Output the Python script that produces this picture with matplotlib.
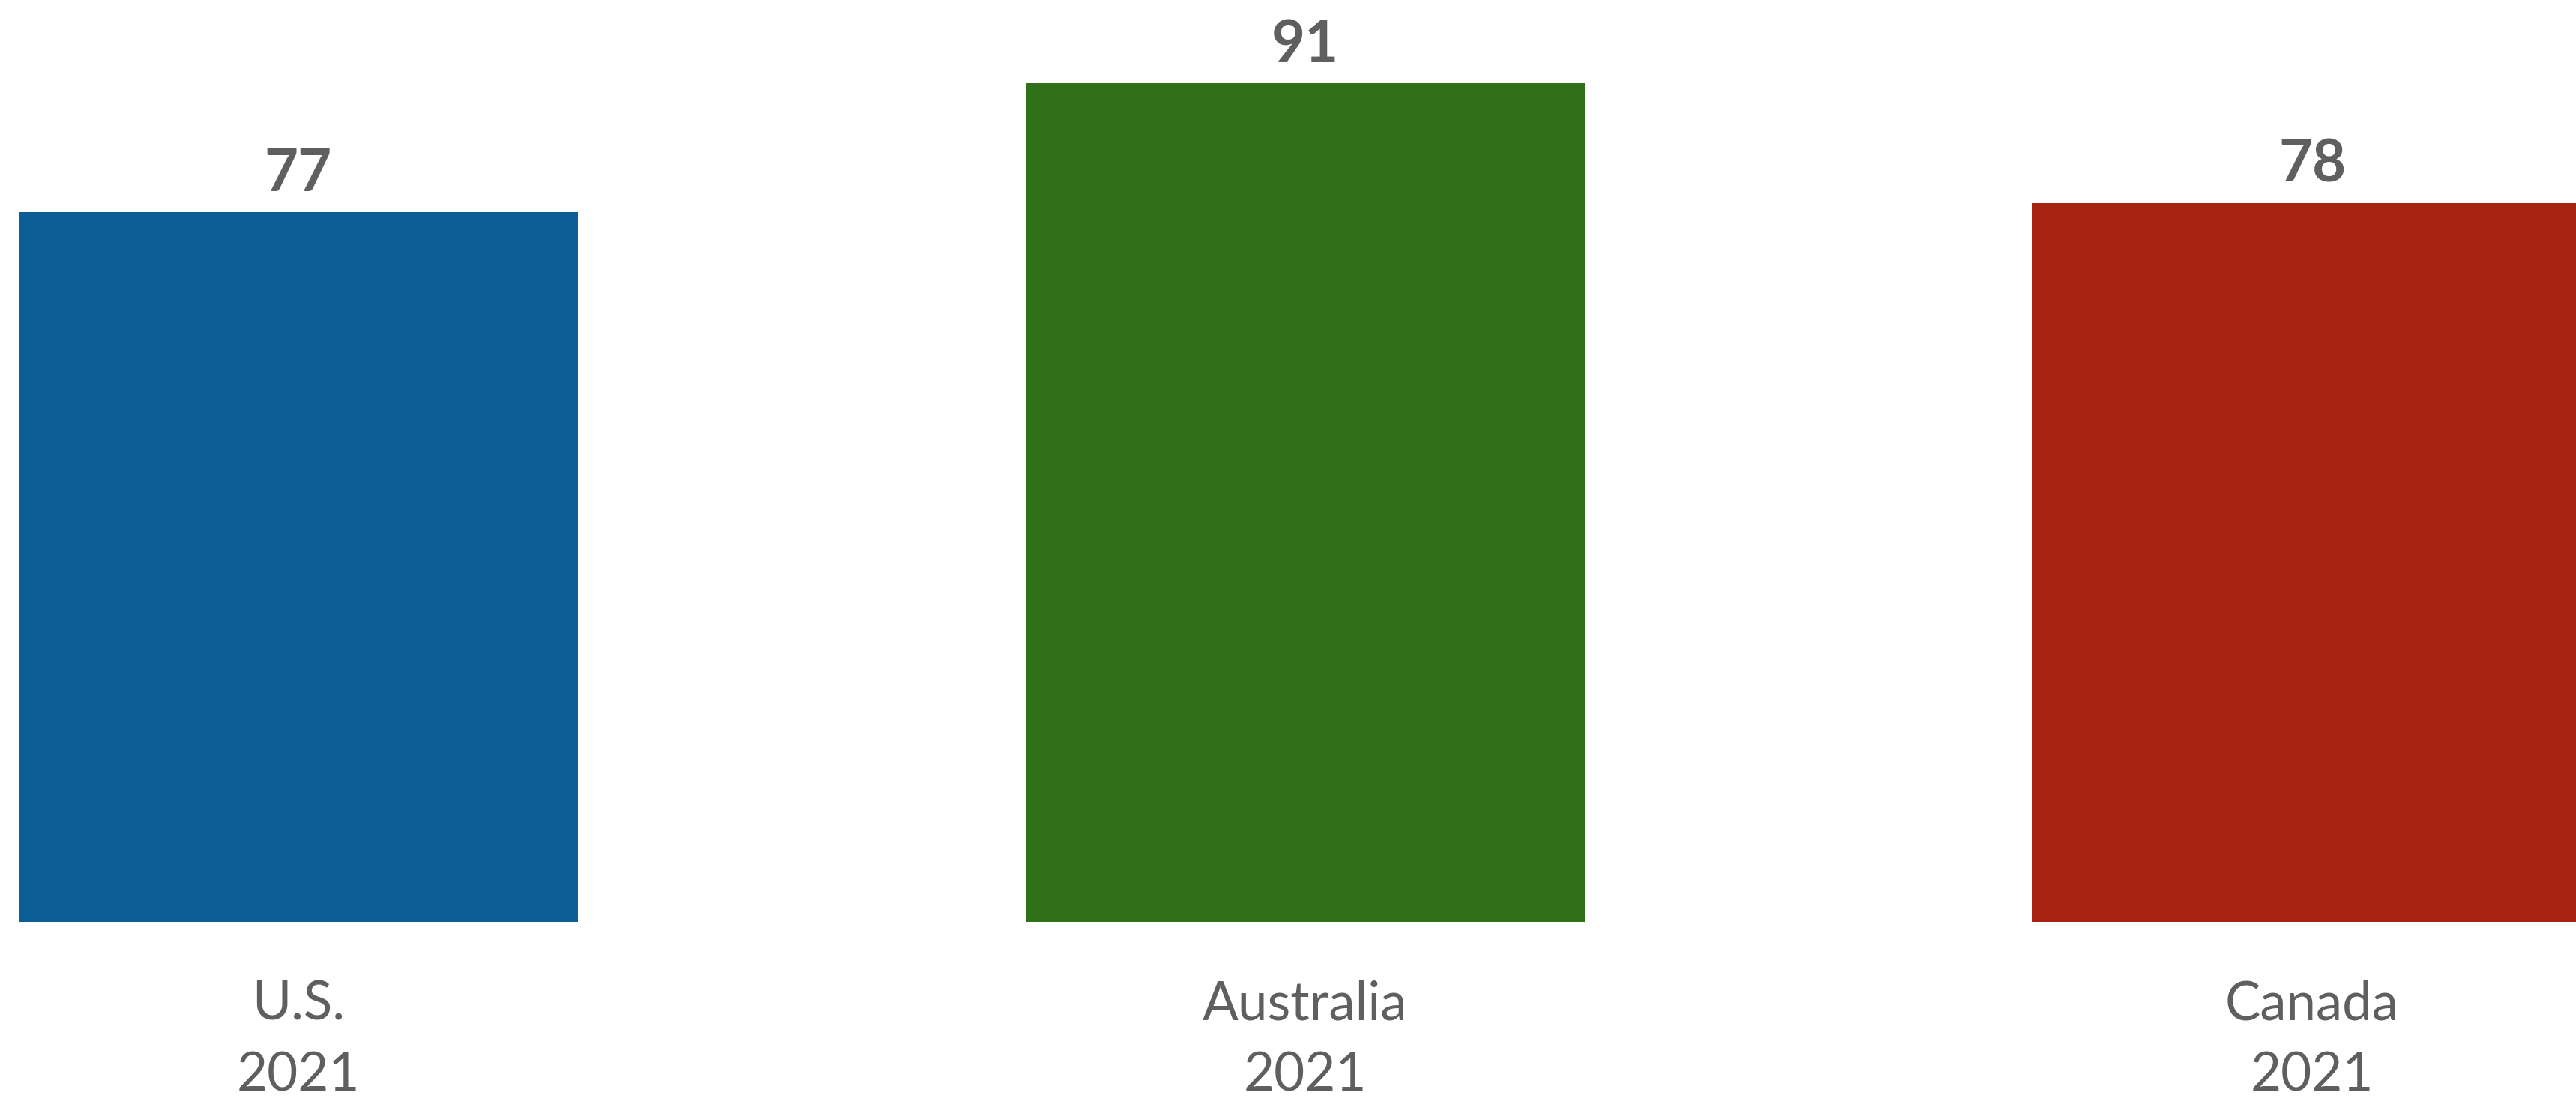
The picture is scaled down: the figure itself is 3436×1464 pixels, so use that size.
"""
Bar chart: index values by country, 2021
"""

import matplotlib
matplotlib.use("Agg")
import matplotlib.pyplot as plt


OUTPUT_FILE = "out.png"

COUNTRIES = ["U.S.", "Australia", "Canada"]
YEARS = ["2021", "2021", "2021"]
VALUES = [77, 91, 78]

BAR_COLORS = ["#0C5E96", "#2F7018", "#A92311"]
TEXT_COLOR = "#5F5F5F"


def main():

    fig = plt.figure(
        figsize=(17.185, 7.32),
        dpi=200
    )

    # plot area is cropped on both sides, like the source image
    ax = fig.add_axes([0.0, 234 / 1464, 1.0, 1230 / 1464])

    positions = list(range(len(VALUES)))

    bars = ax.bar(
        positions,
        VALUES,
        width=1 / 1.8,
        color=BAR_COLORS
    )

    for bar, value in zip(bars, VALUES):
        ax.annotate(
            str(value),
            xy=(bar.get_x() + bar.get_width() / 2, bar.get_height()),
            xytext=(0, 10),
            textcoords="offset points",
            ha="center",
            va="baseline",
            fontsize=28,
            fontfamily="Lato",
            fontweight="bold",
            color=TEXT_COLOR
        )

    labels = [
        f"{country}\n{year}"
        for country, year in zip(COUNTRIES, YEARS)
    ]

    ax.set_xticks(positions)
    ax.set_xticklabels(
        labels,
        fontsize=25.5,
        fontfamily="Lato",
        color=TEXT_COLOR,
        linespacing=1.57
    )

    ax.tick_params(axis="x", length=0, pad=27.5)

    ax.set_xlim(-398 / 1343, (3437 - 398) / 1343)
    ax.set_ylim(0, 100)

    ax.set_yticks([])
    for spine in ax.spines.values():
        spine.set_visible(False)

    fig.savefig(OUTPUT_FILE, dpi=200)
    plt.close(fig)

    print("Saved:", OUTPUT_FILE)


if __name__ == "__main__":
    main()
